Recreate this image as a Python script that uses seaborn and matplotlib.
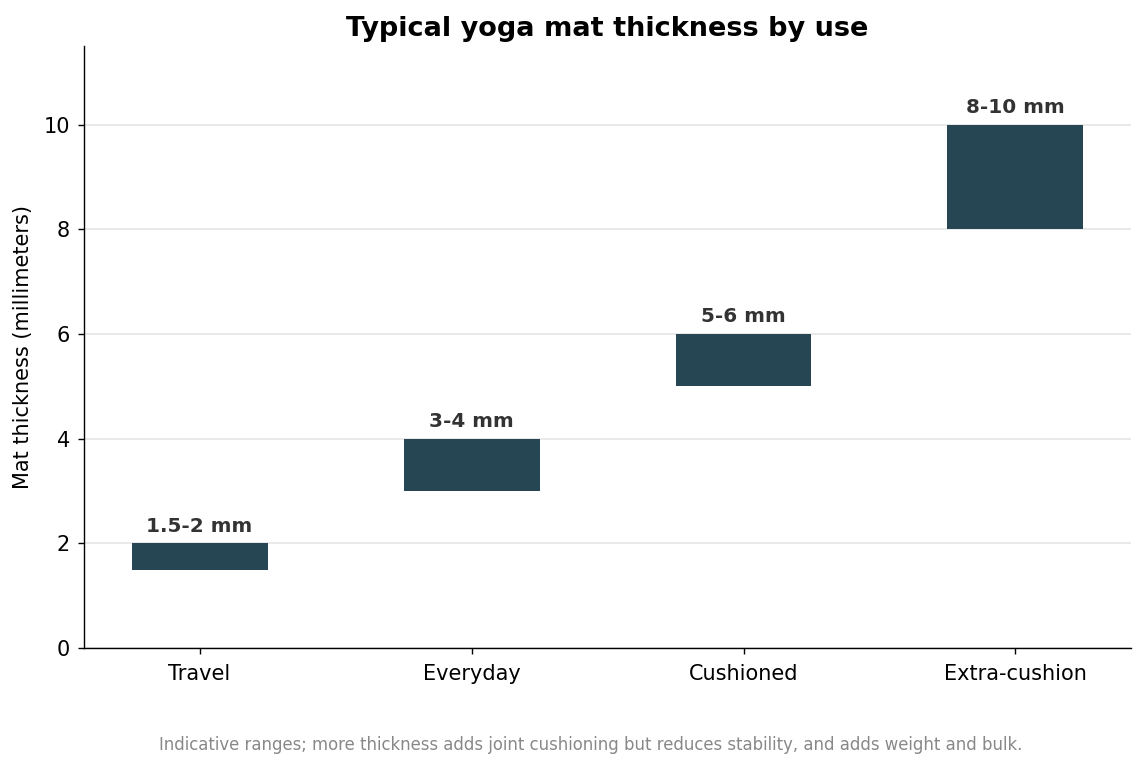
import numpy as np
import pandas as pd
import matplotlib
matplotlib.use("Agg")
import matplotlib.pyplot as plt
import seaborn as sns

uses = ["Travel", "Everyday", "Cushioned", "Extra-cushion"]
low_mm = [1.5, 3, 5, 8]
high_mm = [2, 4, 6, 10]
range_labels = ["1.5-2 mm", "3-4 mm", "5-6 mm", "8-10 mm"]

df = pd.DataFrame({"use": uses, "low": low_mm, "high": high_mm})
df["span"] = df["high"] - df["low"]

plt.rcParams["font.family"] = ["DejaVu Sans"]

fig, ax = plt.subplots(figsize=(9.16, 6.144), dpi=125)
sns.barplot(data=df, x="use", y="span", bottom=df["low"].values,
            color="#264653", width=0.5, saturation=1, linewidth=0,
            ax=ax, zorder=3)

for i, row in df.iterrows():
    ax.text(i, row["high"] + 0.15, range_labels[i], ha="center", va="bottom",
            fontsize=11.5, fontweight="bold", color="#333333")

ax.set_xlim(-0.425, 3.425)
ax.set_ylim(0, 11.5)
ax.set_yticks([0, 2, 4, 6, 8, 10])
ax.grid(axis="y", color="#e6e6e6", linewidth=1, zorder=0)
ax.set_axisbelow(True)
sns.despine(ax=ax)
ax.tick_params(axis="both", labelsize=12)
ax.tick_params(axis="x", pad=5.5)
ax.tick_params(axis="y", pad=4.5)
ax.set_xlabel("")
ax.set_ylabel("Mat thickness (millimeters)", fontsize=12, labelpad=6)
ax.set_title("Typical yoga mat thickness by use", fontsize=15.6, fontweight="bold")

fig.text(0.516, 0.030, "Indicative ranges; more thickness adds joint cushioning but reduces stability, and adds weight and bulk.",
         ha="center", va="center", fontsize=9.5, color="#888888")

fig.subplots_adjust(left=0.0734, right=0.9878, top=0.940, bottom=0.156)
fig.savefig("out.png", dpi=125)
